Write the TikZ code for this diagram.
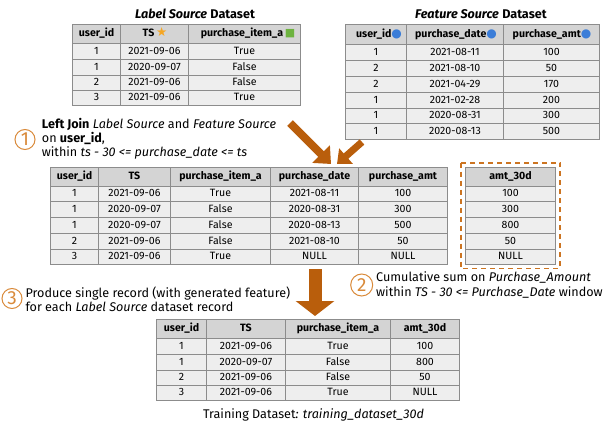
\documentclass[tikz,border=0pt]{standalone}
\usepackage{fontspec}
\setmainfont{Fira Sans}
\newfontfamily\symfont{DejaVu Sans}
\usetikzlibrary{arrows.meta}
\definecolor{hdrc}{HTML}{D4D4D4}
\definecolor{bodyc}{HTML}{EEEEEE}
\definecolor{gridc}{HTML}{8C8C8C}
\definecolor{arrc}{HTML}{B95E0C}
\definecolor{dashc}{HTML}{CC7421}
\definecolor{numc}{HTML}{D98A3A}
\definecolor{starc}{HTML}{F5A623}
\definecolor{greenc}{HTML}{6DB33F}
\definecolor{bluec}{HTML}{3B7DD8}
\newcommand{\bdot}{{\symfont\fontsize{12}{12}\selectfont\color{bluec}●}}
\newcommand{\gsq}{{\symfont\fontsize{11}{11}\selectfont\color{greenc}■}}
\newcommand{\ostar}{{\symfont\fontsize{12.5}{12}\selectfont\color{starc}★}}
\tikzset{
  hd/.style={font=\fontsize{10.6}{12}\selectfont\bfseries, inner sep=0pt, text height=7.6pt, text depth=2.2pt},
  cell/.style={font=\fontsize{10.6}{12}\selectfont, inner sep=0pt, text height=7.6pt, text depth=2.2pt},
  gridline/.style={draw=gridc, line width=1.3pt},
  lbl/.style={font=\fontsize{12.6}{14}\selectfont, anchor=base west, inner sep=0pt},
  ttl/.style={font=\fontsize{12.6}{14}\selectfont, anchor=base, inner sep=0pt},
  numcirc/.style={circle, draw=numc, line width=1pt, minimum size=20pt, inner sep=0pt, text=numc, font=\fontsize{19}{19}\selectfont},
  bigarrow/.style={draw=arrc, line width=8pt, -{Triangle[width=24pt,length=14pt]}},
  smallarrow/.style={draw=arrc, line width=7pt, -{Triangle[width=20pt,length=12pt]}},
  downarrow/.style={draw=arrc, line width=13pt, -{Triangle[width=38pt,length=15pt]}},
  dashbox/.style={draw=dashc, line width=1.6pt, dash pattern=on 5pt off 4pt}
}
\begin{document}
\begin{tikzpicture}[x=1pt,y=-1pt]
\useasboundingbox (0,0) rectangle (611,423);

% ---------- Label Source table ----------
\node[ttl] (Ltitle) at (195,18.3) {\textbf{\textit{Label Source}} \textbf{Dataset}};
\fill[hdrc] (72.5,24.5) rectangle (300.5,43.5);
\fill[bodyc] (72.5,43.5) rectangle (300.5,105.5);
\foreach \y in {43.5,59.5,75.5,90.5} \draw[gridline] (72.5,\y) -- (300.5,\y);
\foreach \x in {120.5,188.5} \draw[gridline] (\x,24.5) -- (\x,105.5);
\draw[gridline] (72.5,24.5) rectangle (300.5,105.5);
\node[hd] (L-h1) at (96.5,34) {user\_id};
\node[hd] (L-h2) at (155,34) {TS\,\ostar};
\node[hd] (L-h3) at (248,34) {purchase\_item\_a\,\gsq};
\foreach \a/\b/\c/\y [count=\i] in {1/2021-09-06/True/51.5, 1/2020-09-07/False/67.5, 2/2021-09-06/False/83, 3/2021-09-06/True/98}{
  \node[cell] (L-\i-1) at (96.5,\y) {\a};
  \node[cell] (L-\i-2) at (154.5,\y) {\b};
  \node[cell] (L-\i-3) at (244.5,\y) {\c};
}

% ---------- Feature Source table ----------
\node[ttl] (Ftitle) at (481,18.3) {\textbf{\textit{Feature Source}} \textbf{Dataset}};
\fill[hdrc] (345.5,24.5) rectangle (599.5,44.5);
\fill[bodyc] (345.5,44.5) rectangle (599.5,139.5);
\foreach \y in {44.5,60.5,76.5,92.5,108.5,123.5} \draw[gridline] (345.5,\y) -- (599.5,\y);
\foreach \x in {406.5,503.5} \draw[gridline] (\x,24.5) -- (\x,139.5);
\draw[gridline] (345.5,24.5) rectangle (599.5,139.5);
\node[hd] (F-h1) at (379,34.5) {user\_id\bdot};
\node[hd] (F-h2) at (456,34.5) {purchase\_date\bdot};
\node[hd] (F-h3) at (552,34.5) {purchase\_amt\bdot};
\foreach \a/\b/\c/\y [count=\i] in {1/2021-08-11/100/52.5, 2/2021-08-10/50/68.5, 2/2021-04-29/170/84.5, 1/2021-02-28/200/100.5, 1/2020-08-31/300/116, 1/2020-08-13/500/131.5}{
  \node[cell] (F-\i-1) at (376,\y) {\a};
  \node[cell] (F-\i-2) at (455,\y) {\b};
  \node[cell] (F-\i-3) at (551.5,\y) {\c};
}

% ---------- Step 1 text ----------
\node[numcirc] (n1) at (25,139.5) {1};
\node[lbl] (t1a) at (41.7,128.3) {\textbf{Left Join} \textit{Label Source} and \textit{Feature Source}};
\node[lbl] (t1b) at (41.7,142.7) {on \textbf{user\_id},};
\node[lbl] (t1c) at (41.7,156.7) {within \textit{ts - 30 <= purchase\_date <= ts}};

% ---------- arrows into joined table ----------
\coordinate (a1s) at (290,123);
\coordinate (a1e) at (331,164);
\coordinate (a2s) at (362,142);
\coordinate (a2e) at (337,164);
\draw[bigarrow] (a1s) -- (a1e);
\draw[smallarrow] (a2s) -- (a2e);

% ---------- Joined table ----------
\fill[hdrc] (50.5,167.5) rectangle (447.5,186.5);
\fill[bodyc] (50.5,186.5) rectangle (447.5,264.5);
\foreach \y in {186.5,201.5,217.5,233.5,249.5} \draw[gridline] (50.5,\y) -- (447.5,\y);
\foreach \x in {98.5,170.5,270.5,358.5} \draw[gridline] (\x,167.5) -- (\x,264.5);
\draw[gridline] (50.5,167.5) rectangle (447.5,264.5);
\node[hd] (M-h1) at (74.5,177) {user\_id};
\node[hd] (M-h2) at (134.5,177) {TS};
\node[hd] (M-h3) at (220.5,177) {purchase\_item\_a};
\node[hd] (M-h4) at (314.5,177) {purchase\_date};
\node[hd] (M-h5) at (403,177) {purchase\_amt};
\foreach \a/\b/\c/\d/\e/\y [count=\i] in {1/2021-09-06/True/2021-08-11/100/194, 1/2020-09-07/False/2020-08-31/300/209.5, 1/2020-09-07/False/2020-08-13/500/225.5, 2/2021-09-06/False/2021-08-10/50/241.5, 3/2021-09-06/True/NULL/NULL/257}{
  \node[cell] (M-\i-1) at (74.5,\y) {\a};
  \node[cell] (M-\i-2) at (134.5,\y) {\b};
  \node[cell] (M-\i-3) at (220.5,\y) {\c};
  \node[cell] (M-\i-4) at (314.5,\y) {\d};
  \node[cell] (M-\i-5) at (403,\y) {\e};
}

% ---------- amt_30d table ----------
\draw[dashbox] (460.7,162.7) rectangle (560,268.3);
\fill[hdrc] (465.5,167.5) rectangle (555.5,186.5);
\fill[bodyc] (465.5,186.5) rectangle (555.5,264.5);
\foreach \y in {186.5,201.5,217.5,233.5,249.5} \draw[gridline] (465.5,\y) -- (555.5,\y);
\draw[gridline] (465.5,167.5) rectangle (555.5,264.5);
\node[hd] (A-h1) at (510.5,177) {amt\_30d};
\foreach \a/\y [count=\i] in {100/194, 300/209.5, 800/225.5, 50/241.5, NULL/257}{
  \node[cell] (A-\i) at (510.5,\y) {\a};
}

% ---------- Step 2 text ----------
\node[numcirc, minimum size=22pt] (n2) at (361.7,285) {2};
\node[lbl] (t2a) at (376,281.7) {Cumulative sum on \textit{Purchase\_Amount}};
\node[lbl] (t2b) at (376,296.7) {within \textit{TS - 30 <= Purchase\_Date} window};

% ---------- Step 3 text ----------
\node[numcirc] (n3) at (12,298.5) {3};
\node[lbl] (t3a) at (25.4,297.3) {Produce single record (with generated feature)};
\node[lbl] (t3b) at (25.4,311.7) {for each \textit{Label Source} dataset record};

% ---------- down arrow ----------
\coordinate (a3s) at (315,269);
\coordinate (a3e) at (315,316);
\draw[downarrow] (a3s) -- (a3e);

% ---------- Training table ----------
\fill[hdrc] (156.5,319.5) rectangle (459.5,338.5);
\fill[bodyc] (156.5,338.5) rectangle (459.5,400.5);
\foreach \y in {338.5,354.5,370.5,385.5} \draw[gridline] (156.5,\y) -- (459.5,\y);
\foreach \x in {206.5,285.5,390.5} \draw[gridline] (\x,319.5) -- (\x,400.5);
\draw[gridline] (156.5,319.5) rectangle (459.5,400.5);
\node[hd] (T-h1) at (181.5,329) {user\_id};
\node[hd] (T-h2) at (246,329) {TS};
\node[hd] (T-h3) at (338,329) {purchase\_item\_a};
\node[hd] (T-h4) at (425,329) {amt\_30d};
\foreach \a/\b/\c/\d/\y [count=\i] in {1/2021-09-06/True/100/346.5, 1/2020-09-07/False/800/362.5, 2/2021-09-06/False/50/378, 3/2021-09-06/True/NULL/393}{
  \node[cell] (T-\i-1) at (181.5,\y) {\a};
  \node[cell] (T-\i-2) at (246,\y) {\b};
  \node[cell] (T-\i-3) at (338,\y) {\c};
  \node[cell] (T-\i-4) at (425,\y) {\d};
}
\node[ttl] (Ttitle) at (313.5,418) {Training Dataset\textit{: training\_dataset\_30d}};
\end{tikzpicture}
\end{document}
